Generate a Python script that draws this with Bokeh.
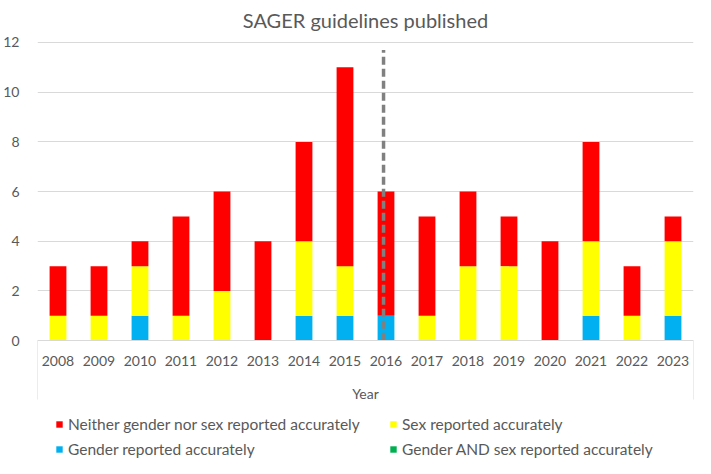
from bokeh.plotting import figure
from bokeh.models import FixedTicker, Legend, LegendItem, Range1d, ColumnDataSource, LinearAxis
from bokeh.embed import file_html
from bokeh.resources import INLINE

years = ["2008", "2009", "2010", "2011", "2012", "2013", "2014", "2015",
         "2016", "2017", "2018", "2019", "2020", "2021", "2022", "2023"]
gender = [0, 0, 1, 0, 0, 0, 1, 1, 1, 0, 0, 0, 0, 1, 0, 1]
sex = [1, 1, 2, 1, 2, 0, 3, 2, 0, 1, 3, 3, 0, 3, 1, 3]
neither = [2, 2, 1, 4, 4, 4, 4, 8, 5, 4, 3, 2, 4, 4, 2, 1]
both = [0, 0, 0, 0, 0, 0, 0, 0, 0, 0, 0, 0, 0, 0, 0, 0]
y_ticks = [0, 2, 4, 6, 8, 10, 12]
guideline_year = "2016"
guideline_top = 11.7
axis_box_depth = 2.37   # depth (in y units) of the category-axis box under the zero line

FONT = "Lato"
TXT = "#595959"
GRID = "#d9d9d9"

idx = list(range(len(years)))
src = ColumnDataSource(dict(x=idx, gender=gender, sex=sex, neither=neither, both=both))

p = figure(width=695, height=458, output_backend="svg", toolbar_location=None,
           x_range=Range1d(-0.5, len(years) - 0.5), y_range=Range1d(-4.74, 12.24),
           x_axis_location=None,
           min_border_left=0, min_border_right=2, min_border_top=0, min_border_bottom=0)
p.outline_line_color = None
p.background_fill_color = "white"

p.title.text = "SAGER guidelines published"
p.title.align = "center"
p.title.text_font = FONT
p.title.text_font_size = "20px"
p.title.text_font_style = "normal"
p.title.text_color = TXT

stackers = ["gender", "sex", "neither", "both"]
colors = ["#00B0F0", "#FFFF00", "#FF0000", "#00B050"]
rs = p.vbar_stack(stackers, x="x", width=0.41, fill_color=colors, line_color=None, source=src)
rmap = dict(zip(stackers, rs))

gx = years.index(guideline_year) - 0.06
p.segment(x0=[gx], y0=[0], x1=[gx], y1=[guideline_top], line_color="#808080",
          line_width=3.5, line_dash="8 4")

# box around the category labels (left and right edges)
edges = [-0.5, len(years) - 0.5]
p.segment(x0=edges, y0=[0, 0], x1=edges, y1=[-axis_box_depth] * 2, line_color=GRID, line_width=1)

# y axis
p.yaxis.ticker = FixedTicker(ticks=y_ticks)
p.yaxis.axis_line_color = None
p.yaxis.major_tick_line_color = None
p.yaxis.minor_tick_line_color = None
p.yaxis.major_label_text_font = FONT
p.yaxis.major_label_text_font_size = "14px"
p.yaxis.major_label_text_color = TXT
p.yaxis.major_label_standoff = 12

# x axis pinned at y = 0
xaxis = LinearAxis(fixed_location=0)
xaxis.ticker = FixedTicker(ticks=idx)
xaxis.major_label_overrides = {i: y for i, y in enumerate(years)}
xaxis.axis_line_color = GRID
xaxis.major_tick_line_color = None
xaxis.minor_tick_line_color = None
xaxis.major_tick_out = 0
xaxis.major_tick_in = 0
xaxis.major_label_text_font = FONT
xaxis.major_label_text_font_size = "14px"
xaxis.major_label_text_color = TXT
xaxis.major_label_standoff = 15
xaxis.axis_label = "Year"
xaxis.axis_label_text_font = FONT
xaxis.axis_label_text_font_size = "14px"
xaxis.axis_label_text_font_style = "normal"
xaxis.axis_label_text_color = TXT
xaxis.axis_label_standoff = 16
p.add_layout(xaxis, "below")

p.xgrid.grid_line_color = None
p.ygrid.ticker = FixedTicker(ticks=y_ticks)
p.ygrid.grid_line_color = GRID

legend_style = dict(orientation="vertical", border_line_color=None, background_fill_alpha=0,
                    glyph_width=8, glyph_height=8, label_standoff=5, spacing=6,
                    label_text_font=FONT, label_text_font_size="15.5px", label_text_color=TXT,
                    label_height=19, padding=0, margin=0)
legend_a = Legend(items=[
    LegendItem(label="Neither gender nor sex reported accurately", renderers=[rmap["neither"]]),
    LegendItem(label="Gender reported accurately", renderers=[rmap["gender"]]),
], location=(18, 0), **legend_style)
legend_b = Legend(items=[
    LegendItem(label="Sex reported accurately", renderers=[rmap["sex"]]),
    LegendItem(label="Gender AND sex reported accurately", renderers=[rmap["both"]]),
], location=(352, 0), **legend_style)
p.add_layout(legend_a)
p.add_layout(legend_b)

open("out.html", "w").write(file_html(p, INLINE))
